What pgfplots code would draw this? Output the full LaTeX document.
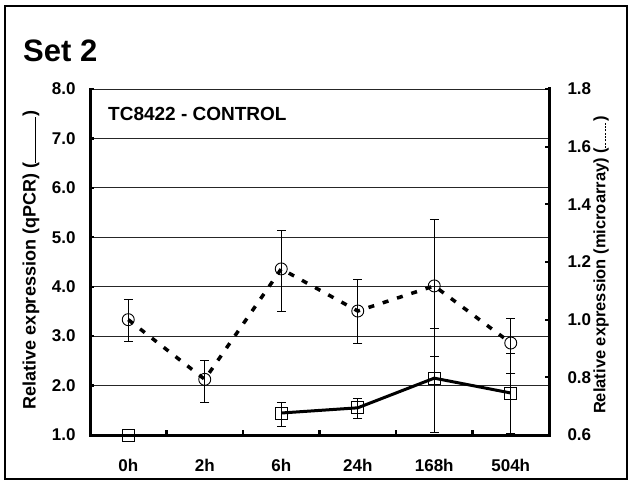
\documentclass[border=0pt]{standalone}
\usepackage{pgfplots}
\pgfplotsset{compat=1.18}
\usepackage{fontspec}
\setmainfont{Liberation Sans}

\newcommand\dsh{\rule{2pt}{0.7pt}\hspace{1.3pt}}

\begin{document}
\begin{tikzpicture}[x=1pt,y=1pt]
\useasboundingbox (0,0) rectangle (629,485);
\draw[line width=1.2pt] (5,6) rectangle (627,479);
\node[anchor=base west, inner sep=0pt, font=\bfseries\fontsize{31}{31}\selectfont] at (23,423) {Set 2};

% left axis: qPCR
\begin{axis}[
  at={(90pt,50pt)}, anchor=south west,
  scale only axis, width=459pt, height=346pt,
  xmin=-0.5, xmax=5.5, ymin=1, ymax=8,
  axis x line*=bottom, axis y line*=left,
  axis line style={line width=3pt, line cap=rect},
  xtick={0,...,5}, xticklabels={0h,2h,6h,24h,168h,504h},
  minor xtick={0.5,1.5,2.5,3.5,4.5},
  ytick={1,...,8},
  tick align=inside,
  major tick length=4pt, minor tick length=5pt,
  tick style={line width=2.2pt, black},
  major x tick style={draw=none},
  ymajorgrids, grid style={line width=0.8pt, black!85},
  ticklabel style={font=\bfseries\fontsize{17}{17}\selectfont},
  /pgf/number format/assume math mode=true,
  yticklabel style={/pgf/number format/.cd, fixed, fixed zerofill, precision=1},
  xticklabel shift=21pt, yticklabel shift=11pt,
  clip=false,
]
\addplot[only marks, mark=square, mark size=6pt, mark options={line width=0.9pt}]
  table[x=x, y=y] {
x y
0 1.0
};
\addplot[black, line width=3pt, mark=square, mark size=6pt, mark options={line width=0.9pt},
  error bars/.cd, y dir=both, y explicit,
  error bar style={line width=0.8pt, black},
  error mark options={rotate=90, line width=0.8pt, mark size=4.5pt, black}]
  table[x=x, y=y, y error plus=ep, y error minus=em] {
x y ep em
2 1.445 0.22 0.28
3 1.55 0.20 0.22
4 2.15 1.00 1.10
5 1.85 0.81 0.81
};
\end{axis}

% right axis: microarray
\begin{axis}[
  at={(90pt,50pt)}, anchor=south west,
  scale only axis, width=459pt, height=346pt,
  xmin=-0.5, xmax=5.5, ymin=0.6, ymax=1.8,
  axis y line*=right, axis x line=none,
  axis line style={line width=3pt, line cap=rect},
  ytick={0.6,0.8,1.0,1.2,1.4,1.6,1.8},
  tick align=inside, major tick length=4pt,
  tick style={line width=2.2pt, black},
  ticklabel style={font=\bfseries\fontsize{17}{17}\selectfont},
  /pgf/number format/assume math mode=true,
  yticklabel style={/pgf/number format/.cd, fixed, fixed zerofill, precision=1},
  yticklabel shift=15pt,
  clip=false,
]
\addplot[black, line width=3.5pt, dash pattern=on 6pt off 9pt,
  mark=o, mark size=6pt, mark options={solid, line width=0.9pt},
  error bars/.cd, y dir=both, y explicit,
  error bar style={line width=0.8pt, black, solid},
  error mark options={rotate=90, line width=0.8pt, mark size=4.5pt, black, solid}]
  table[x=x, y=y, y error plus=ep, y error minus=em] {
x y ep em
0 1.000 0.069 0.077
1 0.793 0.067 0.080
2 1.176 0.135 0.146
3 1.030 0.108 0.113
4 1.117 0.232 0.243
5 0.919 0.087 0.104
};
\end{axis}

\node[anchor=base west, inner sep=0pt, font=\bfseries\fontsize{19}{19}\selectfont] at (108,364.3) {TC8422 - CONTROL};
\node[rotate=90, inner sep=0pt, font=\bfseries\fontsize{18}{18}\selectfont] at (31,225)
  {Relative expression (qPCR) (\rule{46pt}{0.7pt})};
\node[rotate=90, inner sep=0pt, font=\bfseries\fontsize{16.5}{16.5}\selectfont] at (601,220)
  {Relative expression (microarray) (\dsh\dsh\dsh\dsh\dsh\dsh\dsh\dsh)};
\end{tikzpicture}
\end{document}
